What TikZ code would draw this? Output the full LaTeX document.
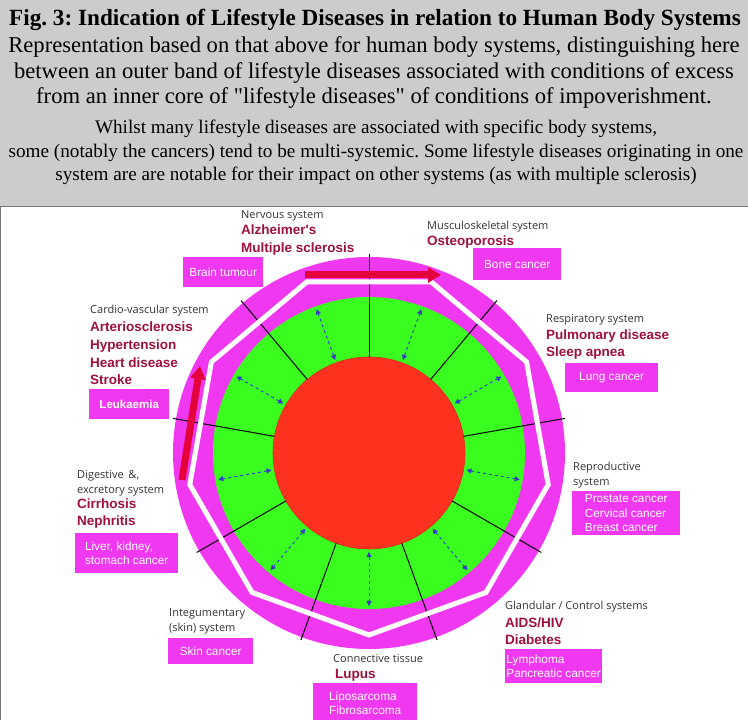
\documentclass[tikz,border=0pt]{standalone}
\usepackage{fontspec}
\setmainfont{Liberation Serif}
\newfontfamily\sysfont{Open Sans}
\newfontfamily\illfont{Liberation Sans}
\newfontfamily\boxfont{Liberation Sans}
\usetikzlibrary{arrows.meta, calc}
\frenchspacing
\definecolor{headgray}{RGB}{204, 204, 204}
\definecolor{framegray}{RGB}{120, 120, 120}
\definecolor{bandpink}{RGB}{240, 56, 240}
\definecolor{ringgreen}{RGB}{58, 252, 30}
\definecolor{corered}{RGB}{255, 50, 32}
\definecolor{illred}{RGB}{160, 16, 60}
\definecolor{flowred}{RGB}{228, 0, 58}
\definecolor{linkblue}{RGB}{40, 60, 210}
\definecolor{tipviolet}{RGB}{120, 40, 150}
\tikzset{
  % Sarlavha
  headbox/.style   = {fill=headgray, draw=framegray, line width=1pt},
  % Tizim nomlari va kasalliklar (anchor = oxirgi satr asosi)
  sysname/.style   = {anchor=base west, inner sep=0pt, align=left, text=black!80,
                      font=\sysfont\fontsize{11}{15.5}\selectfont},
  illness/.style   = {anchor=base west, inner sep=0pt, align=left, text=illred,
                      font=\illfont\bfseries\fontsize{13.5}{17.7}\selectfont},
  cancerbox/.style = {anchor=north west, fill=bandpink, text=white, inner sep=0pt,
                      align=left, font=\boxfont\fontsize{11.8}{14.5}\selectfont},
  % Doira qismlari
  spoke/.style     = {line width=1pt, black},
  linkarrow/.style = {{Triangle[length=5pt, width=5pt, fill=tipviolet]}-{Triangle[length=5pt, width=5pt, fill=tipviolet]},
                      linkblue, dashed, line width=0.9pt},
  flowarrow/.style = {-{Triangle[length=13pt, width=15pt]}, flowred, line width=7pt},
}
\begin{document}
\begin{tikzpicture}[x=1pt, y=1pt]
  \useasboundingbox (0,0) rectangle (748,720);
  % Sarlavha qutisi
  \draw[headbox] (-1,721) rectangle (748,513);
  \draw[framegray, line width=1pt] (0.5,513) -- (0.5,0);
  \node[font=\fontsize{23.2}{26}\selectfont\bfseries] (title) at (375,700)
    {Fig. 3: Indication of Lifestyle Diseases in relation to Human Body Systems};
  \node[align=center, font=\fontsize{22.6}{25.5}\selectfont] (intro) at (374,647.5)
    {Representation based on that above for human body systems, distinguishing here\\
    between an outer band of lifestyle diseases associated with conditions of excess\\
    from an inner core of \textquotedbl lifestyle diseases\textquotedbl{} of conditions of impoverishment.};
  \node[align=center, font=\fontsize{19.2}{23.5}\selectfont] (note) at (376,567.5)
    {Whilst many lifestyle diseases are associated with specific body systems,\\
    some (notably the cancers) tend to be multi-systemic. Some lifestyle diseases originating in one\\
    system are are notable for their impact on other systems (as with multiple sclerosis)};

  % Doira
  \coordinate (C) at (369,267);
  \fill[bandpink] (C) circle (196);
  \fill[ringgreen] (C) circle (156);
  \draw[corered!85!black, fill=corered, line width=0.6pt] (C) circle (96);
  \foreach \a in {90,130,...,410}
    \draw[spoke] ($(C)+(\a:96)$) -- ($(C)+(\a:199)$);
  \draw[white, line width=5pt, line join=miter]
    ($(C)+(110:182)$) \foreach \a in {150,190,...,430} { -- ($(C)+(\a:182)$) } -- cycle;
  \foreach \a in {110,150,...,430}
    \draw[linkarrow] ($(C)+(\a:99)$) -- ($(C)+(\a:153)$);
  \coordinate (topA) at (305,445);
  \coordinate (topB) at (441,445);
  \draw[flowarrow] (topA) -- (topB);
  \coordinate (leftA) at (182,240);
  \coordinate (leftB) at (200,354);
  \draw[flowarrow] (leftA) -- (leftB);

  % Nervous system
  \node[sysname] (nervSys) at (241,501) {Nervous system};
  \node[illness] (nervIll) at (241,467.3) {Alzheimer's\\Multiple sclerosis};
  \node[cancerbox, minimum width=80pt, minimum height=30pt] (nervBox) at (183,463) {Brain tumour};
  % Musculoskeletal system
  \node[sysname] (muscSys) at (427,490) {Musculoskeletal system};
  \node[illness] (muscIll) at (427,474) {Osteoporosis};
  \node[cancerbox, minimum width=88pt, minimum height=32pt] (muscBox) at (473,472) {Bone cancer};
  % Respiratory system
  \node[sysname] (respSys) at (546,397) {Respiratory system};
  \node[illness] (respIll) at (546,363) {Pulmonary disease\\Sleep apnea};
  \node[cancerbox, minimum width=93pt, minimum height=29pt] (respBox) at (565,357) {Lung cancer};
  % Cardio-vascular system
  \node[sysname] (cardSys) at (90,406) {Cardio-vascular system};
  \node[illness] (cardIll) at (90,335) {Arteriosclerosis\\Hypertension\\Heart disease\\Stroke};
  \node[cancerbox, minimum width=80pt, minimum height=30pt, font=\boxfont\bfseries\fontsize{11.5}{14.5}\selectfont] (cardBox) at (89,331) {Leukaemia};
  % Reproductive system
  \node[sysname] (reprSys) at (573,234) {Reproductive\\system};
  \node[cancerbox, minimum width=108pt, minimum height=44pt] (reprBox) at (572,229) {Prostate cancer\\Cervical cancer\\Breast cancer};
  % Digestive & excretory system
  \node[sysname] (digeSys) at (77,226) {Digestive \,\&,\\excretory system};
  \node[illness] (digeIll) at (77,194) {Cirrhosis\\Nephritis};
  \node[cancerbox, minimum width=103pt, minimum height=40pt] (digeBox) at (75,187) {Liver, kidney,\\stomach cancer};
  % Glandular / Control systems
  \node[sysname] (glanSys) at (505,110) {Glandular / Control systems};
  \node[illness] (glanIll) at (505,75) {AIDS/HIV\\Diabetes};
  \node[cancerbox, minimum width=97pt, minimum height=34pt] (glanBox) at (505,71) {Lymphoma\\Pancreatic cancer};
  % Integumentary system
  \node[sysname] (inteSys) at (169,88) {Integumentary\\(skin) system};
  \node[cancerbox, minimum width=85pt, minimum height=26pt] (inteBox) at (168,82) {Skin cancer};
  % Connective tissue
  \node[sysname] (connSys) at (333,57) {Connective tissue};
  \node[illness] (connIll) at (335,41) {Lupus};
  \node[cancerbox, minimum width=104pt, minimum height=40pt] (connBox) at (313,37) {Liposarcoma\\Fibrosarcoma};
\end{tikzpicture}
\end{document}
